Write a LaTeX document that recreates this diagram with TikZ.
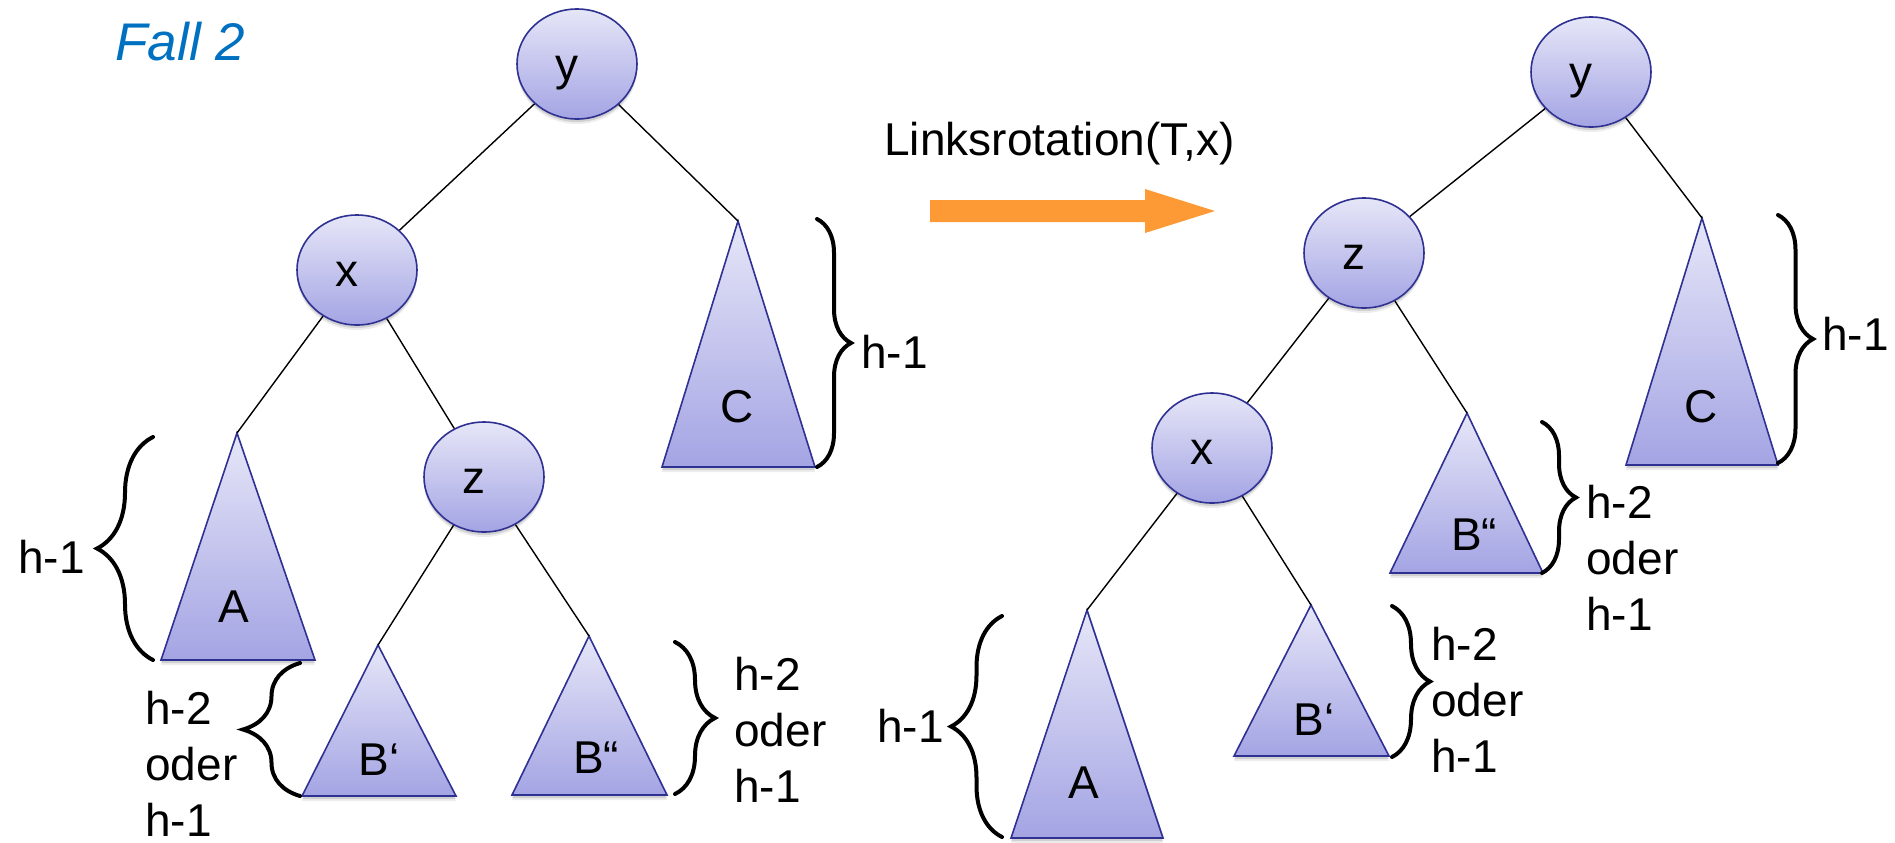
\documentclass[tikz,border=0pt]{standalone}
\usepackage{fontspec}
\setmainfont{Liberation Sans}
\usetikzlibrary{shapes.geometric,decorations.pathreplacing,shadows}

\definecolor{nodeborder}{HTML}{2E3192}
\definecolor{shadetop}{HTML}{E6E6F8}
\definecolor{shadebot}{HTML}{A4A4E4}
\definecolor{orangearrow}{HTML}{FD9A35}
\definecolor{titleblue}{HTML}{0070C0}

\begin{document}
\begin{tikzpicture}[x=0.5pt,y=-0.5pt,
  txt/.style={font=\fontsize{23}{28}\selectfont, inner sep=0pt},
  softshadow/.style={
    general shadow={shadow yshift=-2.5pt, fill=black, opacity=0.07},
    general shadow={shadow yshift=-1.5pt, fill=black, opacity=0.12}},
  treenode/.style={ellipse, draw=nodeborder, line width=0.8pt,
    top color=shadetop, bottom color=shadebot,
    minimum width=60pt, minimum height=55pt, inner sep=0pt,
    text height=16pt, text depth=0pt,
    font=\fontsize{23}{28}\selectfont,
    execute at begin node={\kern-10pt}, softshadow},
  subtree/.style={draw=nodeborder, line width=0.8pt, line join=miter,
    top color=shadetop, bottom color=shadebot, softshadow},
  edge/.style={draw=black, line width=0.7pt},
  curly/.style={decorate, decoration={brace, amplitude=#1},
    line width=2pt, line cap=round},
  % three-line height labels, placed by the baseline of their last line
  hlabel/.style={txt, align=left, anchor=base west},
]
\useasboundingbox (0,0) rectangle (1895,842);

% heading
\node[font=\fontsize{26.5}{30}\selectfont\itshape, text=titleblue,
      inner sep=0pt, anchor=base west] (title) at (115,60) {Fall 2};

% ---------- tree before the rotation ----------
\node[treenode] (yL) at (577,64)  {y};
\node[treenode] (xL) at (357,270) {x};
\node[treenode] (zL) at (484,477) {z};
\coordinate (AL)   at (237,433);
\coordinate (BpL)  at (378,645);
\coordinate (BppL) at (589,636);
\coordinate (CL)   at (738,221);

\path[subtree] (AL)   -- (161,660) -- (315,660) -- cycle;
\path[subtree] (BpL)  -- (302,796) -- (456,796) -- cycle;
\path[subtree] (BppL) -- (512,795) -- (667,795) -- cycle;
\path[subtree] (CL)   -- (662,467) -- (815,467) -- cycle;

\node[txt, anchor=base] (labAL)   at (234,622) {A};
\node[txt, anchor=base] (labBpL)  at (379,775) {B‘};
\node[txt, anchor=base] (labBppL) at (596,773) {B“};
\node[txt, anchor=base] (labCL)   at (737,422) {C};

\draw[edge] (yL) -- (xL);
\draw[edge] (yL) -- (CL);
\draw[edge] (xL) -- (AL);
\draw[edge] (xL) -- (zL);
\draw[edge] (zL) -- (BpL);
\draw[edge] (zL) -- (BppL);

\draw[curly=28pt]   (153,660) -- (153,437);
\draw[curly=28.5pt] (300,796) -- (300,663);
\draw[curly=20pt]   (675,642) -- (675,794);
\draw[curly=17pt]   (817,219) -- (817,467);

\node[txt, anchor=base west] (hAL) at (18,573) {h-1};
\node[hlabel] (hBpL)  at (145,836) {h-2\\oder\\h-1};
\node[hlabel] (hBppL) at (734,802) {h-2\\oder\\h-1};
\node[txt, anchor=base west] (hCL) at (861,368) {h-1};

% ---------- rotation arrow ----------
\node[txt, anchor=base west] (rot) at (884,155) {Linksrotation(T,x)};
\fill[orangearrow] (930,200) -- (1145,200) -- (1145,189) -- (1215,211)
  -- (1145,233) -- (1145,222) -- (930,222) -- cycle;

% ---------- tree after the rotation ----------
\node[treenode] (yR) at (1591,72)  {y};
\node[treenode] (zR) at (1364,253) {z};
\node[treenode] (xR) at (1212,448) {x};
\coordinate (CR)   at (1702,218);
\coordinate (BppR) at (1467,413);
\coordinate (BpR)  at (1311,605);
\coordinate (AR)   at (1087,610);

\path[subtree] (CR)   -- (1626,465) -- (1778,465) -- cycle;
\path[subtree] (BppR) -- (1390,573) -- (1543,573) -- cycle;
\path[subtree] (BpR)  -- (1234,756) -- (1389,756) -- cycle;
\path[subtree] (AR)   -- (1011,838) -- (1163,838) -- cycle;

\node[txt, anchor=base] (labCR)   at (1701,422) {C};
\node[txt, anchor=base] (labBppR) at (1474,550) {B“};
\node[txt, anchor=base] (labBpR)  at (1314,735) {B‘};
\node[txt, anchor=base] (labAR)   at (1084,798) {A};

\draw[edge] (yR) -- (zR);
\draw[edge] (yR) -- (CR);
\draw[edge] (zR) -- (xR);
\draw[edge] (zR) -- (BppR);
\draw[edge] (xR) -- (AR);
\draw[edge] (xR) -- (BpR);

\draw[curly=17.5pt] (1778,215) -- (1778,463);
\draw[curly=17pt]   (1542,422) -- (1542,573);
\draw[curly=19pt]   (1392,606) -- (1392,757);
\draw[curly=25.5pt] (1002,837) -- (1002,616);

\node[txt, anchor=base west] (hCR) at (1822,350) {h-1};
\node[hlabel] (hBppR) at (1586,630) {h-2\\oder\\h-1};
\node[hlabel] (hBpR)  at (1431,772) {h-2\\oder\\h-1};
\node[txt, anchor=base east] (hAR) at (944,742) {h-1};
\end{tikzpicture}
\end{document}
